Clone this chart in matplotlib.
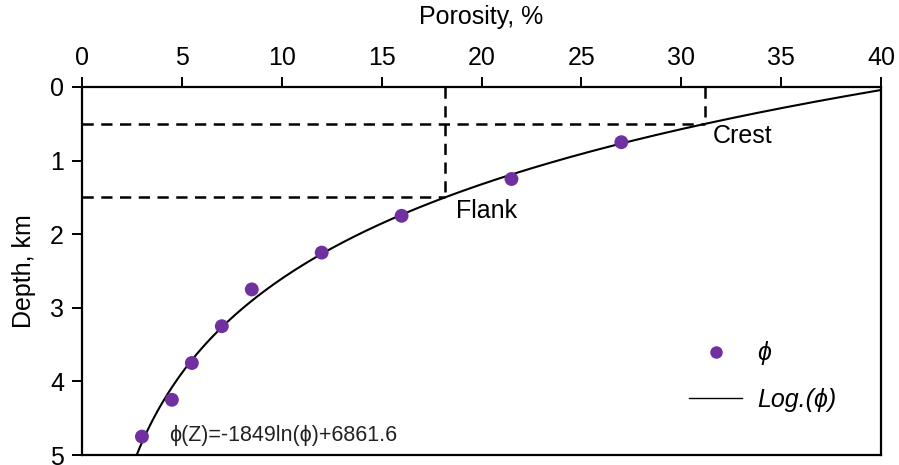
import numpy as np
import matplotlib.pyplot as plt
from matplotlib.lines import Line2D

plt.rcParams['font.family'] = ['Liberation Sans', 'DejaVu Sans']

# measured porosity (%) vs depth (km)
porosity = [3.0, 4.5, 5.5, 7.0, 8.5, 12.0, 16.0, 21.5, 27.0]
depth = [4.75, 4.25, 3.75, 3.25, 2.75, 2.25, 1.75, 1.25, 0.75]

# log fit: Z(m) = a*ln(phi) + b
fit_a = -1849.0
fit_b = 6861.6

# reference depths (km) for crest and flank
crest_z = 0.5
flank_z = 1.5

purple = '#7030a0'
fs = 18

fig = plt.figure(figsize=(8.99, 4.65), dpi=100)
ax = fig.add_axes([82 / 899, 10 / 465, 799 / 899, 368 / 465])

phi = np.linspace(2.7, 40, 400)
z = (fit_a * np.log(phi) + fit_b) / 1000.0
ax.plot(phi, z, color='black', lw=1.5, zorder=3)
ax.scatter(porosity, depth, s=100, color=purple, zorder=4, edgecolors='none')

def phi_at(zkm):
    return np.exp((zkm * 1000.0 - fit_b) / fit_a)

for zz in (crest_z, flank_z):
    p = phi_at(zz)
    ax.plot([0, p], [zz, zz], ls=(0, (4.5, 3)), color='black', lw=1.8, zorder=2)
    ax.plot([p, p], [0, zz], ls=(0, (4.5, 3)), color='black', lw=1.8, zorder=2)

ax.text(31.6, 0.66, 'Crest', fontsize=fs, va='center')
ax.text(18.7, 1.69, 'Flank', fontsize=fs, va='center')
ax.text(4.35, 4.73, 'ϕ(Z)=-1849ln(ϕ)+6861.6', fontsize=15.5, va='center',
        color='#222222')

ax.set_xlim(0, 40)
ax.set_ylim(5, 0)
ax.set_xticks(np.arange(0, 41, 5))
ax.set_yticks(np.arange(0, 6, 1))
ax.xaxis.tick_top()
ax.xaxis.set_label_position('top')
ax.tick_params(axis='x', direction='out', length=7, width=1.4, labelsize=fs, pad=5)
ax.tick_params(axis='y', direction='out', length=7, width=1.4, labelsize=fs, pad=6)
ax.set_xlabel('Porosity, %', fontsize=fs, labelpad=16)
ax.set_ylabel('Depth, km', fontsize=fs, labelpad=10)
for sp in ax.spines.values():
    sp.set_linewidth(1.6)

handles = [
    Line2D([], [], ls='none', marker='o', ms=9, color=purple, mec='none'),
    Line2D([], [], color='black', lw=1.0),
]
ax.legend(handles, ['ϕ', 'Log.(ϕ)'], loc='lower right',
          bbox_to_anchor=(0.972, 0.056), frameon=False,
          prop={'size': fs, 'style': 'italic'}, handlelength=2.1,
          handletextpad=0.6, labelspacing=0.9)

fig.savefig('out.png', dpi=100)
plt.close(fig)
